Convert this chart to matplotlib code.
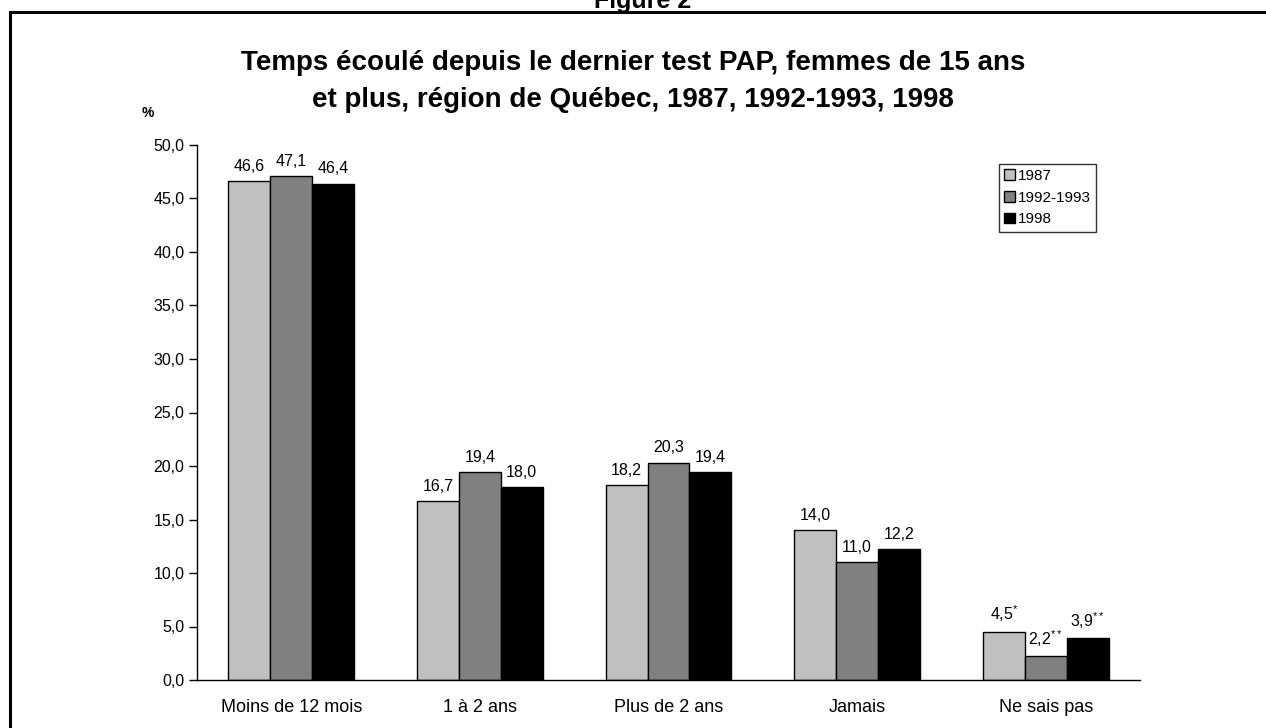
import matplotlib.pyplot as plt
from matplotlib.lines import Line2D
import numpy as np

plt.rcParams['font.family'] = ['Liberation Sans', 'DejaVu Sans']
plt.rcParams['mathtext.fontset'] = 'custom'
plt.rcParams['mathtext.rm'] = 'Liberation Sans'

# Data
categories = ['Moins de 12 mois', '1 à 2 ans', 'Plus de 2 ans', 'Jamais', 'Ne sais pas']
series = ['1987', '1992-1993', '1998']
v1987 = [46.6, 16.7, 18.2, 14.0, 4.5]
v1992 = [47.1, 19.4, 20.3, 11.0, 2.2]
v1998 = [46.4, 18.0, 19.4, 12.2, 3.9]
notes1987 = ['', '', '', '', '*']
notes1992 = ['', '', '', '', '**']
notes1998 = ['', '', '', '', '**']
colors = ['#C0C0C0', '#808080', '#000000']

W, H = 1266, 728
fig = plt.figure(figsize=(W / 100, H / 100), dpi=100)
ax = fig.add_axes([197 / W, 1 - 680 / H, (1140 - 197) / W, (680 - 145) / H])

x = np.arange(len(categories))
bw = 0.222
for i, (vals, notes) in enumerate(zip([v1987, v1992, v1998], [notes1987, notes1992, notes1998])):
    pos = x + (i - 1) * bw
    ax.bar(pos, vals, width=bw, color=colors[i], edgecolor='black', linewidth=1.0,
           label=series[i], zorder=2)
    for px, v, n in zip(pos, vals, notes):
        txt = f'{v:.1f}'.replace('.', ',')
        if n:
            txt += r'$^{\mathregular{' + n + '}}$'
        ax.text(px, v + 0.7, txt, ha='center', va='bottom', fontsize=11.5)

ax.set_xlim(-0.5, len(categories) - 0.5)
ax.set_ylim(0, 50)
ax.set_yticks(np.arange(0, 50.1, 5))
ax.set_yticklabels([f'{t:.1f}'.replace('.', ',') for t in np.arange(0, 50.1, 5)], fontsize=11.5)
ax.set_xticks(x)
ax.set_xticklabels(categories, fontsize=13)
ax.tick_params(axis='x', length=0, pad=14)
ax.tick_params(axis='y', length=6, width=1, direction='out', pad=3)
for s in ['top', 'right']:
    ax.spines[s].set_visible(False)
ax.spines['left'].set_linewidth(1)
ax.spines['bottom'].set_linewidth(1)

leg = ax.legend(loc='upper left', bbox_to_anchor=(0.85, 0.965), fontsize=11,
                frameon=True, fancybox=False, edgecolor='black', handlelength=0.7,
                handleheight=0.7, handletextpad=0.2, labelspacing=0.5, borderpad=0.35,
                borderaxespad=0)
leg.get_frame().set_linewidth(1)

fig.text(633 / W, 1 - 63 / H, 'Temps écoulé depuis le dernier test PAP, femmes de 15 ans',
         ha='center', va='center', fontsize=20, fontweight='bold')
fig.text(633 / W, 1 - 100 / H, 'et plus, région de Québec, 1987, 1992-1993, 1998',
         ha='center', va='center', fontsize=20, fontweight='bold')
fig.text(148 / W, 1 - 113 / H, '%', ha='center', va='center', fontsize=10, fontweight='bold')
fig.text(643 / W, 1 - 8 / H, 'Figure 2', ha='center', va='baseline', fontsize=18, fontweight='bold')

# frame around the figure
fig.add_artist(Line2D([10 / W, 1], [1 - 12 / H, 1 - 12 / H], color='black', linewidth=2.2,
                      transform=fig.transFigure))
fig.add_artist(Line2D([10 / W, 10 / W], [0, 1 - 12 / H], color='black', linewidth=2.2,
                      transform=fig.transFigure))

fig.savefig('out.png', dpi=100)
